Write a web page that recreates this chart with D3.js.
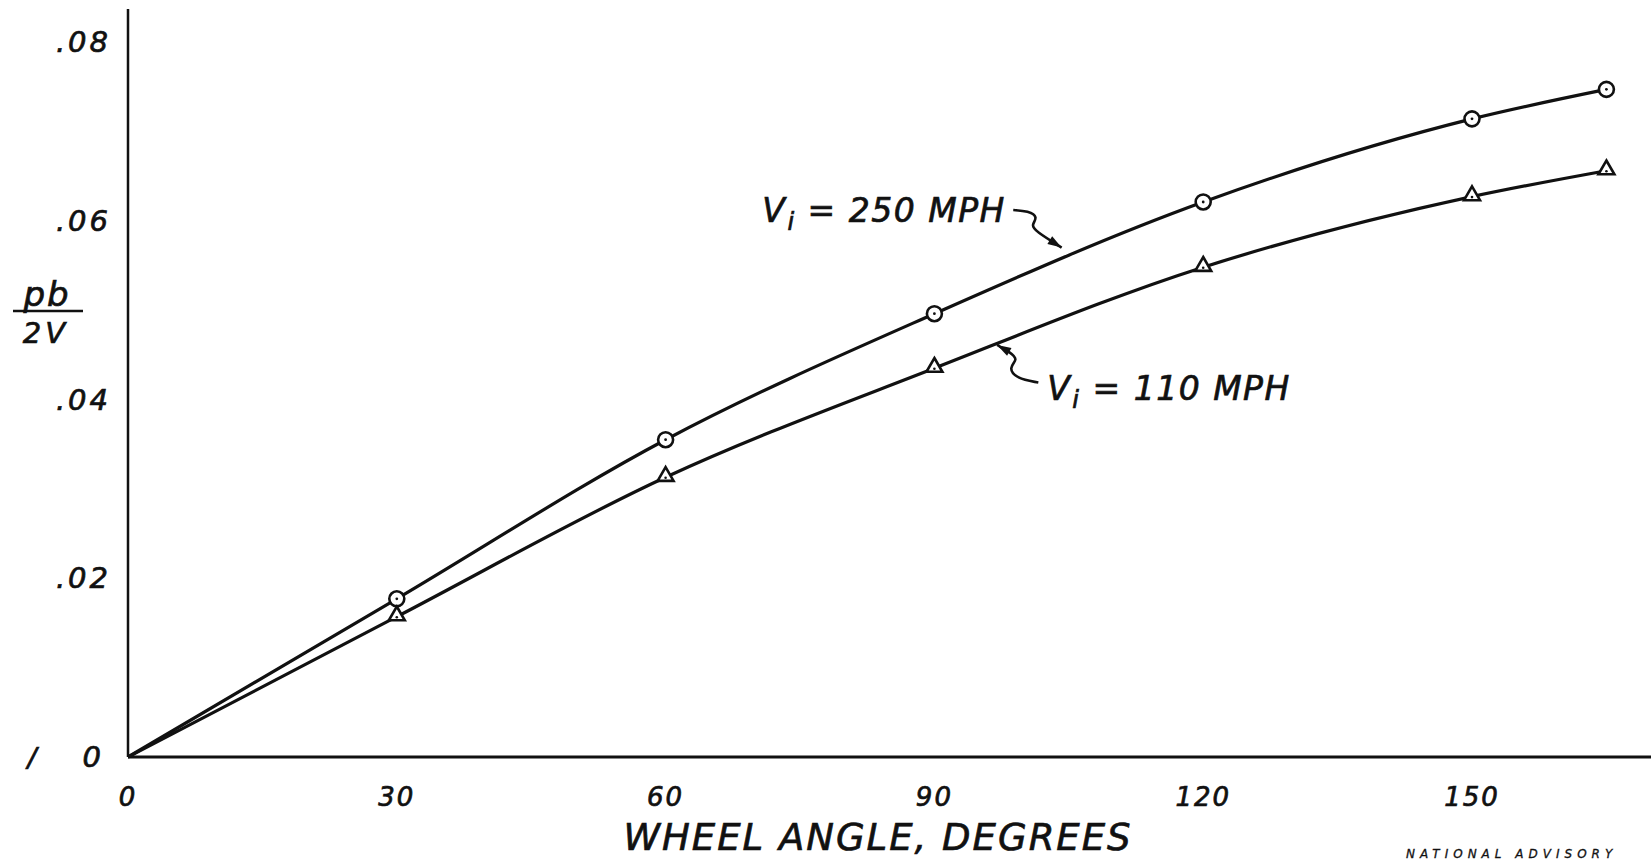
<!DOCTYPE html>
<html>
<head>
<meta charset="utf-8">
<script src="https://cdn.jsdelivr.net/npm/d3@7"></script>
<style>
  html, body { margin: 0; padding: 0; background: #fff; }
  svg { display: block; }
  text { font-family: "DejaVu Sans", "Liberation Sans", sans-serif; font-style: italic; fill: #111; stroke: #111; stroke-width: 0.7px; }
</style>
</head>
<body>
<svg id="chart" width="1651" height="860"></svg>
<script>
// Wheel angle (degrees) at which each run was measured
const wheelAngle = [0, 30, 60, 90, 120, 150, 165];
// Helix angle pb/2V for the two indicated airspeeds
const pb2v_250 = [0, 0.0177, 0.0355, 0.0496, 0.0621, 0.0714, 0.0747];
const pb2v_110 = [0, 0.0157, 0.0313, 0.0435, 0.0548, 0.0627, 0.0656];
// Axis tick labels
const xTicks = [0, 30, 60, 90, 120, 150];
const xTickText = ["0", "30", "60", "90", "120", "150"];
const yTicks = [0, 0.02, 0.04, 0.06, 0.08];
const yTickText = ["0", ".02", ".04", ".06", ".08"];

const svg = d3.select("#chart");
const ink = "#111";

const x = d3.scaleLinear().domain([0, 150]).range([128, 1472]);
const y = d3.scaleLinear().domain([0, 0.08]).range([757, 42]);

// Axes: plain ruled lines, no tick marks
svg.append("line")
  .attr("x1", x(0)).attr("x2", 1651)
  .attr("y1", y(0)).attr("y2", y(0))
  .attr("stroke", ink).attr("stroke-width", 3);
svg.append("line")
  .attr("x1", x(0)).attr("x2", x(0))
  .attr("y1", y(0)).attr("y2", y(0.0837))
  .attr("stroke", ink).attr("stroke-width", 2.5);

// Tick labels
svg.append("g").selectAll("text").data(xTicks).join("text")
  .attr("x", d => x(d)).attr("y", y(0) + 49)
  .attr("text-anchor", "middle")
  .attr("font-size", 26).attr("letter-spacing", 2)
  .text((d, i) => xTickText[i]);

svg.append("g").selectAll("text").data(yTicks).join("text")
  .attr("x", d => d === 0 ? 104 : 111).attr("y", d => y(d) + 10)
  .attr("text-anchor", "end")
  .attr("font-size", 29).attr("letter-spacing", 3)
  .text((d, i) => yTickText[i]);

// stray mark next to the zero label
svg.append("text").attr("x", 32).attr("y", y(0) + 10)
  .attr("text-anchor", "middle").attr("font-size", 27).text("/");

// Axis titles
svg.append("text")
  .attr("x", 878).attr("y", 850)
  .attr("text-anchor", "middle")
  .attr("font-size", 37)
  .attr("letter-spacing", 2)
  .text("WHEEL ANGLE, DEGREES");

const yl = svg.append("g");
yl.append("text").attr("x", 47).attr("y", 306).attr("text-anchor", "middle")
  .attr("font-size", 34).attr("letter-spacing", 2).text("pb");
yl.append("line").attr("x1", 13).attr("x2", 83).attr("y1", 311).attr("y2", 311)
  .attr("stroke", ink).attr("stroke-width", 2.5);
yl.append("text").attr("x", 46).attr("y", 343).attr("text-anchor", "middle")
  .attr("font-size", 29).attr("letter-spacing", 4).text("2V");

// Footer credit along the bottom edge
svg.append("text")
  .attr("x", 1406).attr("y", 858)
  .attr("font-size", 12).attr("font-style", "normal").attr("letter-spacing", 5)
  .style("stroke-width", "0.3px")
  .text("NATIONAL ADVISORY");

// Curves
const line = d3.line()
  .x((d, i) => x(wheelAngle[i]))
  .y(d => y(d))
  .curve(d3.curveMonotoneX);

[pb2v_250, pb2v_110].forEach(s => {
  svg.append("path").attr("d", line(s))
    .attr("fill", "none").attr("stroke", ink).attr("stroke-width", 3.2)
    .attr("stroke-linejoin", "round");
});

// Markers: dotted circles for 250 MPH, dotted triangles for 110 MPH
const pts250 = wheelAngle.map((a, i) => ({ a, v: pb2v_250[i] })).filter(d => d.a > 0);
const pts110 = wheelAngle.map((a, i) => ({ a, v: pb2v_110[i] })).filter(d => d.a > 0);

const gC = svg.append("g").selectAll("g").data(pts250).join("g")
  .attr("transform", d => `translate(${x(d.a)},${y(d.v)})`);
gC.append("circle").attr("r", 7.5).attr("fill", "#fff").attr("stroke", ink).attr("stroke-width", 2.6);
gC.append("circle").attr("r", 1.4).attr("fill", ink);

const tri = d3.symbol().type(d3.symbolTriangle).size(110);
const gT = svg.append("g").selectAll("g").data(pts110).join("g")
  .attr("transform", d => `translate(${x(d.a)},${y(d.v) - 1})`);
gT.append("path").attr("d", tri()).attr("fill", "#fff").attr("stroke", ink).attr("stroke-width", 2.6)
  .attr("stroke-linejoin", "miter");
gT.append("circle").attr("cy", 1.5).attr("r", 1.3).attr("fill", ink);

// Curve labels with squiggly leader arrows
function label(tx, ty, num) {
  const t = svg.append("text").attr("x", tx).attr("y", ty).attr("font-size", 33).attr("letter-spacing", 1.5);
  t.append("tspan").text("V");
  t.append("tspan").attr("font-size", 24).attr("dy", 8).attr("dx", 1).text("i");
  t.append("tspan").attr("dy", -8).text(" = " + num + " MPH");
}
label(x(70.8), y(0.0599), 250);
label(x(102.6), y(0.0399), 110);

function arrow(pts) {
  const p = d3.line().curve(d3.curveBasis)(pts);
  svg.append("path").attr("d", p).attr("fill", "none").attr("stroke", ink).attr("stroke-width", 2.6);
  const [a, b] = [pts[pts.length - 2], pts[pts.length - 1]];
  const ang = Math.atan2(b[1] - a[1], b[0] - a[0]);
  const L = 14, W = 4.5;
  const hx = b[0] - L * Math.cos(ang), hy = b[1] - L * Math.sin(ang);
  svg.append("path")
    .attr("d", `M${b[0]},${b[1]} L${hx - W * Math.sin(ang)},${hy + W * Math.cos(ang)} L${hx + W * Math.sin(ang)},${hy - W * Math.cos(ang)} Z`)
    .attr("fill", ink);
}
// 250 MPH leader: from the label's end down to the upper curve
{
  const sx = x(98.8), sy = y(0.0612);
  arrow([[sx, sy], [sx + 15, sy + 1], [sx + 25, sy + 7], [sx + 18, sy + 15], [sx + 22, sy + 21], [x(104.2), y(0.0570)]]);
}
// 110 MPH leader: from the label's start up to the lower curve
{
  const sx = x(101.6), sy = y(0.0419);
  arrow([[sx, sy], [sx - 22, sy - 4], [sx - 30, sy - 15], [sx - 20, sy - 23], [sx - 28, sy - 30], [x(97.0), y(0.0461)]]);
}
</script>
</body>
</html>
